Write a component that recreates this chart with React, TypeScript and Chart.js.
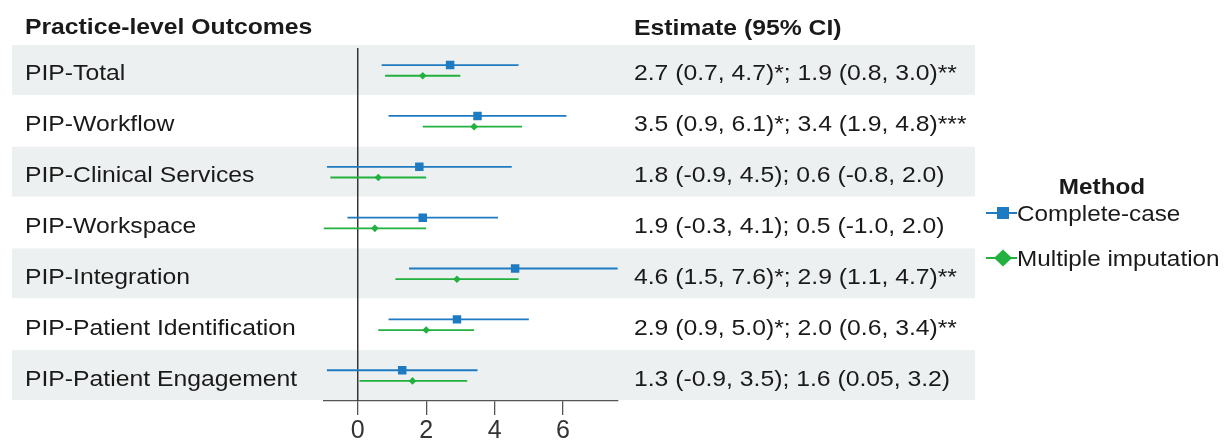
import React, { useEffect, useRef } from "react";
import { Chart, registerables } from "chart.js";

Chart.register(...registerables);

// ---------------- data ----------------
const OUTCOMES = [
  "PIP-Total",
  "PIP-Workflow",
  "PIP-Clinical Services",
  "PIP-Workspace",
  "PIP-Integration",
  "PIP-Patient Identification",
  "PIP-Patient Engagement",
];
const SERIES_NAMES = ["Complete-case", "Multiple imputation"];
const CC_EST = [2.7, 3.5, 1.8, 1.9, 4.6, 2.9, 1.3];
const CC_LO = [0.7, 0.9, -0.9, -0.3, 1.5, 0.9, -0.9];
const CC_HI = [4.7, 6.1, 4.5, 4.1, 7.6, 5.0, 3.5];
const MI_EST = [1.9, 3.4, 0.6, 0.5, 2.9, 2.0, 1.6];
const MI_LO = [0.8, 1.9, -0.8, -1.0, 1.1, 0.6, 0.05];
const MI_HI = [3.0, 4.8, 2.0, 2.0, 4.7, 3.4, 3.2];
const ESTIMATE_LABELS = [
  "2.7 (0.7, 4.7)*; 1.9 (0.8, 3.0)**",
  "3.5 (0.9, 6.1)*; 3.4 (1.9, 4.8)***",
  "1.8 (-0.9, 4.5); 0.6 (-0.8, 2.0)",
  "1.9 (-0.3, 4.1); 0.5 (-1.0, 2.0)",
  "4.6 (1.5, 7.6)*; 2.9 (1.1, 4.7)**",
  "2.9 (0.9, 5.0)*; 2.0 (0.6, 3.4)**",
  "1.3 (-0.9, 3.5); 1.6 (0.05, 3.2)",
];
const X_TICKS = [0, 2, 4, 6];
const X_MIN = -1.0;
const X_MAX = 7.6;
const LEFT_HEADER = "Practice-level Outcomes";
const RIGHT_HEADER = "Estimate (95% CI)";
const LEGEND_TITLE = "Method";

// ---------------- style ----------------
const W = 1224;
const H = 441;
const BLUE = "#1f7bc1";
const GREEN = "#22b03e";
const BAND = "#edf0f0";
const TEXT = "#1a1a1a";
const FAMILY = '"Liberation Sans", Arial, Helvetica, sans-serif';
const FS = 21.5;
const SX = 1.15;
const SX_LEGEND = 1.13;
const OFF = 0.105;

function drawText(
  ctx: CanvasRenderingContext2D,
  s: string,
  x: number,
  y: number,
  bold = false,
  align: CanvasTextAlign = "left",
  sx = SX
) {
  ctx.save();
  ctx.translate(x, y);
  ctx.scale(sx, 1);
  ctx.font = `${bold ? "bold " : ""}${FS}px ${FAMILY}`;
  ctx.fillStyle = TEXT;
  ctx.textAlign = align;
  ctx.textBaseline = "alphabetic";
  ctx.fillText(s, 0, 0);
  ctx.restore();
}

const bandsPlugin = {
  id: "bands",
  beforeDraw(chart: any) {
    const { ctx } = chart;
    const y = chart.scales.y;
    ctx.save();
    ctx.fillStyle = BAND;
    OUTCOMES.forEach((_, i) => {
      if (i % 2 === 0) {
        const a = y.getPixelForValue(i - 0.5);
        const b = y.getPixelForValue(i + 0.5);
        ctx.fillRect(12, Math.min(a, b), 963, Math.abs(b - a) - 1);
      }
    });
    ctx.restore();
  },
};

const textPlugin = {
  id: "texts",
  afterDraw(chart: any) {
    const { ctx } = chart;
    const y = chart.scales.y;
    drawText(ctx, LEFT_HEADER, 25, 33.5, true);
    drawText(ctx, RIGHT_HEADER, 634, 34.5, true);
    OUTCOMES.forEach((name, i) => {
      const cy = y.getPixelForValue(i);
      drawText(ctx, name, 25, cy + 10);
      drawText(ctx, ESTIMATE_LABELS[i], 634, cy + 10);
    });
    // legend
    drawText(ctx, LEGEND_TITLE, 1102, 193.5, true, "center", SX_LEGEND);
    const items = [
      { name: SERIES_NAMES[0], color: BLUE, cy: 213, shape: "square" },
      { name: SERIES_NAMES[1], color: GREEN, cy: 258, shape: "diamond" },
    ];
    items.forEach((it) => {
      ctx.save();
      ctx.strokeStyle = it.color;
      ctx.lineWidth = 2;
      ctx.beginPath();
      ctx.moveTo(986, it.cy);
      ctx.lineTo(1017, it.cy);
      ctx.stroke();
      ctx.fillStyle = it.color;
      const cx = 1003;
      if (it.shape === "square") {
        ctx.fillRect(cx - 6, it.cy - 6, 12, 12);
      } else {
        ctx.beginPath();
        ctx.moveTo(cx - 9, it.cy);
        ctx.lineTo(cx, it.cy - 8.5);
        ctx.lineTo(cx + 9, it.cy);
        ctx.lineTo(cx, it.cy + 8.5);
        ctx.closePath();
        ctx.fill();
      }
      ctx.restore();
      drawText(ctx, it.name, 1017, it.cy + 8, false, "left", SX_LEGEND);
    });
  },
};

export default function App() {
  const ref = useRef<HTMLCanvasElement | null>(null);

  useEffect(() => {
    if (!ref.current) return;
    const ciLine = (lo: number, hi: number, yv: number, color: string) => ({
      type: "line" as const,
      data: [
        { x: lo, y: yv },
        { x: hi, y: yv },
      ],
      borderColor: color,
      borderWidth: 1.8,
      pointRadius: 0,
      fill: false,
      order: 2,
    });
    const datasets: any[] = [
      {
        type: "scatter",
        label: SERIES_NAMES[0],
        data: CC_EST.map((v, i) => ({ x: v, y: i - OFF })),
        pointStyle: "rect",
        pointRadius: 6,
        backgroundColor: BLUE,
        borderWidth: 0,
        order: 0,
      },
      {
        type: "scatter",
        label: SERIES_NAMES[1],
        data: MI_EST.map((v, i) => ({ x: v, y: i + OFF })),
        pointStyle: "rectRot",
        pointRadius: 3.8,
        backgroundColor: GREEN,
        borderWidth: 0,
        order: 1,
      },
      ...OUTCOMES.map((_, i) => ciLine(CC_LO[i], CC_HI[i], i - OFF, BLUE)),
      ...OUTCOMES.map((_, i) => ciLine(MI_LO[i], MI_HI[i], i + OFF, GREEN)),
      {
        type: "line",
        data: [
          { x: 0, y: -0.44 },
          { x: 0, y: OUTCOMES.length - 0.5 },
        ],
        borderColor: "#333333",
        borderWidth: 1.5,
        pointRadius: 0,
        order: 5,
      },
    ];

    const chart = new Chart(ref.current, {
      type: "scatter",
      data: { datasets },
      options: {
        animation: false,
        responsive: true,
        maintainAspectRatio: false,
        events: [],
        layout: { padding: { left: 323.5, right: W - 617.8, top: 45, bottom: 0 } },
        plugins: {
          legend: { display: false },
          tooltip: { enabled: false },
        },
        scales: {
          x: {
            type: "linear",
            position: "bottom",
            min: X_MIN,
            max: X_MAX,
            afterBuildTicks: (scale: any) => {
              scale.ticks = X_TICKS.map((v) => ({ value: v }));
            },
            afterFit: (scale: any) => {
              scale.height = 40;
            },
            border: { display: true, color: "#555555", width: 1.3 },
            grid: {
              display: true,
              drawOnChartArea: false,
              drawTicks: true,
              tickLength: 14,
              color: "#555555",
              lineWidth: 1.3,
            },
            ticks: {
              color: "#333333",
              padding: 1,
              maxRotation: 0,
              autoSkip: false,
              font: { size: 25, family: FAMILY },
            },
          },
          y: {
            type: "linear",
            display: false,
            min: -0.5,
            max: OUTCOMES.length - 0.5,
            reverse: true,
          },
        },
      },
      plugins: [bandsPlugin, textPlugin],
    } as any);
    return () => chart.destroy();
  }, []);

  return (
    <div style={{ position: "fixed", left: 0, top: 0, width: W, height: H, background: "#ffffff" }}>
      <canvas ref={ref} />
    </div>
  );
}
